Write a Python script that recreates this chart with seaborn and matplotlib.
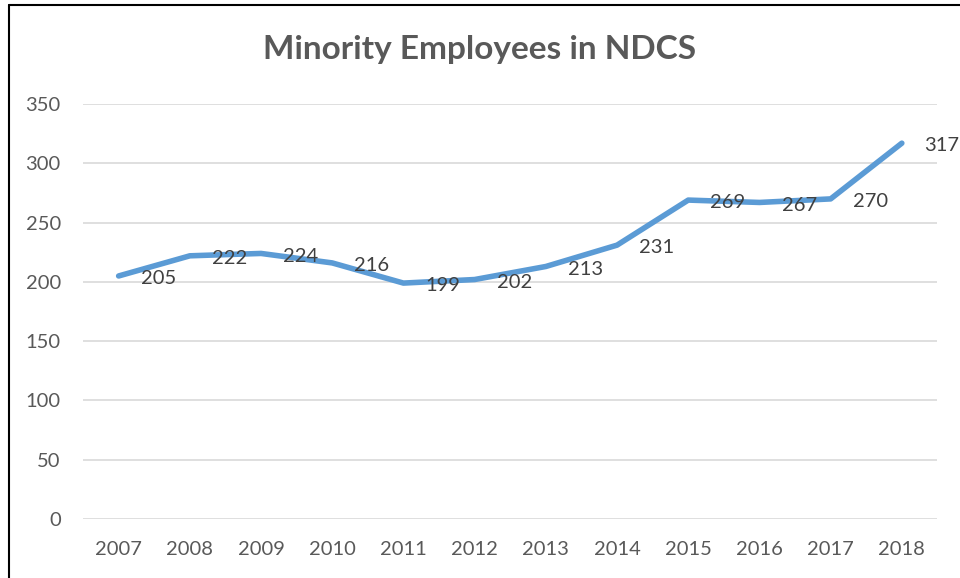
import matplotlib
matplotlib.use("Agg")
import matplotlib.pyplot as plt
import seaborn as sns
import pandas as pd
from matplotlib.lines import Line2D

years = ["2007", "2008", "2009", "2010", "2011", "2012", "2013", "2014", "2015", "2016", "2017", "2018"]
employees = [205, 222, 224, 216, 199, 202, 213, 231, 269, 267, 270, 317]
y_ticks = [0, 50, 100, 150, 200, 250, 300, 350]

sns.set_theme(style="white")
plt.rcParams['font.family'] = ['Lato', 'DejaVu Sans']

df = pd.DataFrame({"pos": range(len(years)), "year": years, "value": employees})

fig = plt.figure(figsize=(9.6, 5.78), dpi=100)
ax = fig.add_axes([0.0865, 0.102, 0.890, 0.718])

sns.lineplot(data=df, x="pos", y="value", ax=ax, color="#5B9BD5", linewidth=4.0,
             solid_capstyle="round", solid_joinstyle="round")

ax.set_xlim(-0.5, len(years) - 0.5)
ax.set_ylim(0, 350)
ax.set_yticks(y_ticks)
ax.set_yticklabels([str(t) for t in y_ticks])
ax.set_xticks(range(len(years)))
ax.set_xticklabels(years)
ax.grid(axis="y", color="#D9D9D9", linewidth=1.2)
ax.set_axisbelow(True)
for s in ax.spines.values():
    s.set_visible(False)
ax.tick_params(axis="y", length=0, pad=16, labelsize=14.5, labelcolor="#595959")
ax.tick_params(axis="x", length=0, pad=16, labelsize=14.5, labelcolor="#595959")
ax.set_xlabel("")
ax.set_ylabel("")

for i, v in enumerate(employees):
    ax.annotate(str(v), xy=(i, v), xytext=(16, -2), textcoords="offset points",
                ha="left", va="center", fontsize=14.5, color="#404040")

fig.text(0.5, 0.915, "Minority Employees in NDCS", ha="center", va="center",
         fontsize=24, fontweight="bold", color="#595959")

# frame lines (left and top)
fig.add_artist(Line2D([0.009, 0.009], [0, 0.992], transform=fig.transFigure, color="black", linewidth=1.5))
fig.add_artist(Line2D([0.009, 1.0], [0.992, 0.992], transform=fig.transFigure, color="black", linewidth=1.5))

fig.savefig("out.png", dpi=100)
